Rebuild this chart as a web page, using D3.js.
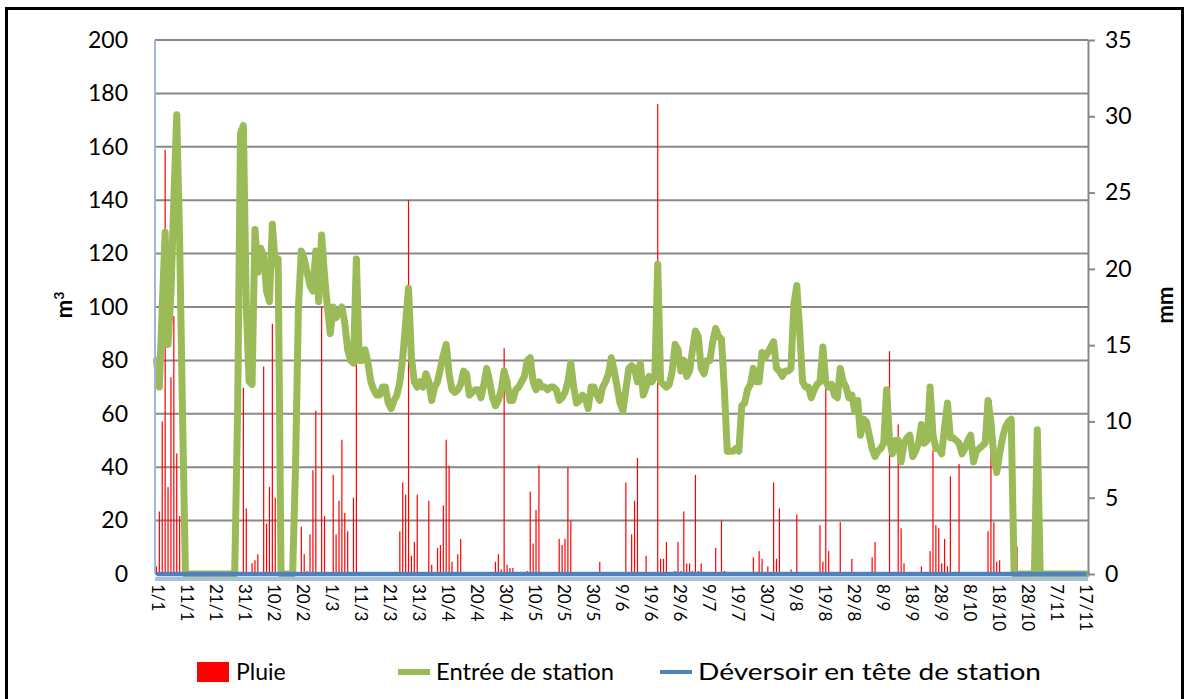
<!DOCTYPE html>
<html>
<head>
<meta charset="utf-8">
<script src="https://cdn.jsdelivr.net/npm/d3@7"></script>
<style>
  body { margin: 0; background: #fff; }
  text { font-family: Lato, "Open Sans", sans-serif; fill: #000; }
</style>
</head>
<body>
<svg id="chart" width="1187" height="699"></svg>
<script>
// categories: daily from 1/1 (leap year), one day missing in late July
const startDate = new Date(2012, 0, 1);
const skippedDay = "25/7";
const tickEvery = 10;

// Entrée de station (m3), left axis
const entree = [
  80, 70, 100, 128, 86, 105, 140, 172, 125, 60,
  0, 0, 0, 0, 0, 0, 0, 0, 0, 0,
  0, 0, 0, 0, 0, 0, 0, 0, 60, 165,
  168, 100, 72, 71, 129, 113, 122, 119, 106, 102,
  131, 116, 118, 0, 0, 0, 0, 0, 40, 100,
  121, 118, 113, 108, 106, 121, 102, 127, 112, 100,
  90, 100, 96, 98, 100, 94, 84, 80, 79, 118,
  80, 80, 84, 79, 72, 69, 67, 67, 70, 70,
  64, 62, 65, 67, 72, 81, 94, 107, 81, 72,
  70, 72, 70, 75, 72, 65, 70, 72, 77, 82,
  86, 75, 69, 68, 69, 71, 76, 75, 67, 68,
  69, 69, 66, 71, 77, 72, 66, 63, 65, 69,
  76, 72, 65, 65, 69, 70, 72, 74, 80, 81,
  72, 69, 72, 70, 70, 69, 70, 70, 69, 65,
  66, 68, 72, 79, 70, 64, 65, 67, 66, 62,
  70, 70, 67, 65, 70, 72, 75, 81, 76, 70,
  64, 61, 69, 77, 78, 77, 72, 79, 67, 70,
  74, 72, 74, 116, 72, 71, 70, 71, 76, 86,
  84, 76, 80, 74, 76, 84, 91, 89, 77, 75,
  80, 80, 87, 92, 89, 88, 69, 46, 46, 46,
  47, 46, 63, 64, 69, 71, 77, 72, 72, 83,
  81, 83, 85, 87, 77, 76, 74, 76, 76, 77,
  101, 108, 91, 72, 70, 70, 66, 69, 71, 72,
  85, 72, 70, 71, 67, 66, 77, 72, 70, 66,
  67, 61, 65, 52, 58, 57, 52, 47, 44, 46,
  47, 49, 69, 50, 45, 50, 50, 42, 49, 51,
  52, 44, 46, 49, 56, 49, 50, 70, 52, 47,
  47, 45, 55, 64, 51, 51, 50, 49, 45, 47,
  50, 52, 42, 46, 47, 48, 49, 65, 57, 44,
  38, 45, 51, 55, 57, 58, 0, 0, 0, 0,
  0, 0, 0, 0, 54, 0, 0, 0, 0, 0,
  0, 0, 0, 0, 0, 0, 0, 0, 0, 0,
  0, 0
];

// Pluie (mm), right axis
const pluie = [
  0.5, 4.1, 10, 27.8, 5.7, 12.9, 16.9, 7.9, 3.8, 0,
  0, 0, 0, 0, 0, 0, 0, 0, 0, 0,
  0, 0, 0, 0, 0, 0, 0, 0, 0, 0.1,
  12.2, 4.3, 0.1, 0.7, 0.9, 1.3, 0.1, 13.6, 3.3, 5.7,
  16.4, 5.0, 0, 0, 0, 0, 0, 0, 0, 0,
  3.1, 1.3, 0.2, 2.6, 6.8, 10.7, 0, 17.5, 3.8, 0,
  0, 6.5, 2.6, 4.8, 8.8, 4.0, 2.8, 0, 5.0, 13.8,
  0, 0, 0, 0, 0, 0, 0, 0, 0, 0,
  0, 0, 0, 0.1, 2.8, 6.0, 5.2, 24.5, 1.2, 2.1,
  5.2, 0, 0.1, 0, 4.8, 0.6, 0, 1.7, 1.9, 4.5,
  8.8, 7.1, 0.8, 0.1, 1.3, 2.3, 0.1, 0.1, 0, 0,
  0, 0, 0, 0, 0, 0, 0.1, 0.8, 1.3, 0.3,
  14.8, 0.6, 0.4, 0.4, 0, 0, 0, 0, 0.2, 5.4,
  2.0, 4.2, 7.1, 0, 0, 0, 0.1, 0, 0, 2.3,
  1.9, 2.3, 7.0, 3.5, 0, 0, 0, 0, 0, 0,
  0, 0, 0, 0.8, 0, 0, 0, 0, 0, 0,
  0, 0, 6.0, 0.1, 2.6, 4.8, 7.6, 0.1, 0.1, 1.2,
  0, 0, 0, 30.8, 1.0, 1.0, 2.1, 0, 0, 0.2,
  2.1, 0.2, 4.1, 0.7, 0.7, 0.2, 6.5, 0.2, 0.7, 0.1,
  0, 0, 0, 1.7, 0, 3.5, 0.2, 0, 0, 0,
  0, 0, 0, 0, 0, 0.1, 1.1, 0, 1.5, 1.0,
  0.1, 0.5, 0, 6.0, 1.0, 4.3, 0.1, 0.1, 0, 0.3,
  0, 3.9, 0, 0, 0, 0.1, 0, 0, 0, 3.2,
  0.8, 12.5, 1.5, 0, 0, 0, 3.4, 0.1, 0, 0,
  1.0, 0, 0.1, 0, 0, 0.1, 0.1, 1.1, 2.1, 0,
  0, 0.1, 0, 14.6, 0, 0, 9.8, 3.0, 0.7, 0,
  0.1, 0.1, 0.1, 0, 0.5, 0, 0, 1.5, 8.1, 3.2,
  3.0, 0.7, 2.3, 0.5, 6.4, 0.1, 0, 7.2, 0.1, 0,
  0, 0, 0, 0, 0, 0, 0, 2.8, 11.4, 3.4,
  0.8, 0.9, 0, 0.1, 0, 0, 0, 1.8, 0, 0,
  0, 0, 0, 0, 0, 0, 0, 0, 0, 0,
  0, 0, 0, 0, 0, 0, 0, 0, 0, 0,
  0, 0
];

// Déversoir en tête de station (m3), left axis
const deversoir = [
  0, 0, 0, 0, 0, 0, 0, 0, 0, 0, 0, 0, 0, 0, 0, 0, 0, 0, 0, 0,
  0, 0, 0, 0, 0, 0, 0, 0, 0, 0, 0, 0, 0, 0, 0, 0, 0, 0, 0, 0,
  0, 0, 0, 0, 0, 0, 0, 0, 0, 0, 0, 0, 0, 0, 0, 0, 0, 0, 0, 0,
  0, 0, 0, 0, 0, 0, 0, 0, 0, 0, 0, 0, 0, 0, 0, 0, 0, 0, 0, 0,
  0, 0, 0, 0, 0, 0, 0, 0, 0, 0, 0, 0, 0, 0, 0, 0, 0, 0, 0, 0,
  0, 0, 0, 0, 0, 0, 0, 0, 0, 0, 0, 0, 0, 0, 0, 0, 0, 0, 0, 0,
  0, 0, 0, 0, 0, 0, 0, 0, 0, 0, 0, 0, 0, 0, 0, 0, 0, 0, 0, 0,
  0, 0, 0, 0, 0, 0, 0, 0, 0, 0, 0, 0, 0, 0, 0, 0, 0, 0, 0, 0,
  0, 0, 0, 0, 0, 0, 0, 0, 0, 0, 0, 0, 0, 0, 0, 0, 0, 0, 0, 0,
  0, 0, 0, 0, 0, 0, 0, 0, 0, 0, 0, 0, 0, 0, 0, 0, 0, 0, 0, 0,
  0, 0, 0, 0, 0, 0, 0, 0, 0, 0, 0, 0, 0, 0, 0, 0, 0, 0, 0, 0,
  0, 0, 0, 0, 0, 0, 0, 0, 0, 0, 0, 0, 0, 0, 0, 0, 0, 0, 0, 0,
  0, 0, 0, 0, 0, 0, 0, 0, 0, 0, 0, 0, 0, 0, 0, 0, 0, 0, 0, 0,
  0, 0, 0, 0, 0, 0, 0, 0, 0, 0, 0, 0, 0, 0, 0, 0, 0, 0, 0, 0,
  0, 0, 0, 0, 0, 0, 0, 0, 0, 0, 0, 0, 0, 0, 0, 0, 0, 0, 0, 0,
  0, 0, 0, 0, 0, 0, 0, 0, 0, 0, 0, 0, 0, 0, 0, 0, 0, 0, 0, 0,
  0, 0
];

const leftTicks = [0, 20, 40, 60, 80, 100, 120, 140, 160, 180, 200];
const rightTicks = [0, 5, 10, 15, 20, 25, 30, 35];

const legendItems = [
  { label: "Pluie", kind: "bar", color: "#ff0000" },
  { label: "Entrée de station", kind: "line", color: "#9bbb59" },
  { label: "Déversoir en tête de station", kind: "line", color: "#4f81bd" }
];

// build date labels
const dates = [];
for (let d = new Date(startDate); dates.length < entree.length; d.setDate(d.getDate() + 1)) {
  const lab = d.getDate() + "/" + (d.getMonth() + 1);
  if (lab !== skippedDay) dates.push(lab);
}

const width = 1187;
const height = 699;
const margin = { top: 40, right: 99, bottom: 125, left: 155 };

const svg = d3.select("#chart");

const x = d3
  .scaleBand()
  .domain(dates)
  .range([margin.left, width - margin.right]);
const cx = (d) => x(d) + x.bandwidth() / 2;

const yL = d3
  .scaleLinear()
  .domain([0, 200])
  .range([height - margin.bottom, margin.top]);

const yR = d3
  .scaleLinear()
  .domain([0, 35])
  .range([height - margin.bottom, margin.top]);

// chart frame
svg.append("rect")
  .attr("x", 6.5).attr("y", 8.5)
  .attr("width", 1176).attr("height", 720)
  .attr("fill", "none").attr("stroke", "#000").attr("stroke-width", 3);

// gridlines
svg.append("g")
  .selectAll("line")
  .data(leftTicks)
  .join("line")
  .attr("x1", margin.left).attr("x2", width - margin.right)
  .attr("y1", (d) => yL(d)).attr("y2", (d) => yL(d))
  .attr("stroke", "#888").attr("stroke-width", 2);

// rain bars
svg.append("g")
  .attr("fill", "#ff0000")
  .selectAll("rect")
  .data(pluie)
  .join("rect")
  .attr("x", (d, i) => cx(dates[i]) - 0.6)
  .attr("width", 1.2)
  .attr("y", (d) => yR(d))
  .attr("height", (d) => yR(0) - yR(d));

// lines
const lineL = d3.line()
  .x((d, i) => cx(dates[i]))
  .y((d) => yL(d));

svg.append("path")
  .datum(entree)
  .attr("d", lineL)
  .attr("fill", "none")
  .attr("stroke", "#9bbb59")
  .attr("stroke-width", 7)
  .attr("stroke-linejoin", "round")
  .attr("stroke-linecap", "round");

// light axis band under the zero line
svg.append("line")
  .attr("x1", margin.left).attr("x2", width - margin.right)
  .attr("y1", yL(0) + 5).attr("y2", yL(0) + 5)
  .attr("stroke", "#a9c0dd").attr("stroke-width", 4);

svg.append("path")
  .datum(deversoir)
  .attr("d", lineL)
  .attr("fill", "none")
  .attr("stroke", "#4f81bd")
  .attr("stroke-width", 4.5);

// left axis
svg.append("line")
  .attr("x1", margin.left).attr("x2", margin.left)
  .attr("y1", margin.top).attr("y2", yL(0))
  .attr("stroke", "#9db6d9").attr("stroke-width", 2);

svg.append("g")
  .attr("transform", `translate(${margin.left},0)`)
  .call(d3.axisLeft(yL).tickValues(leftTicks).tickSize(0).tickPadding(27))
  .call((g) => g.select(".domain").remove())
  .call((g) => g.selectAll("text").style("font-size", "23px"));

// right axis
svg.append("g")
  .attr("transform", `translate(${width - margin.right},0)`)
  .call(d3.axisRight(yR).tickValues(rightTicks).tickSize(7).tickSizeOuter(0).tickPadding(10))
  .call((g) => g.select(".domain").attr("stroke", "#888").attr("stroke-width", 2))
  .call((g) => g.selectAll(".tick line").attr("stroke", "#888").attr("stroke-width", 2))
  .call((g) => g.selectAll("text").style("font-size", "23px"));

// bottom axis labels
svg.append("g")
  .attr("transform", `translate(0,${yL(0) + 10})`)
  .call(d3.axisBottom(x).tickValues(dates.filter((d, i) => i % tickEvery === 0)).tickSize(0))
  .call((g) => g.select(".domain").remove())
  .call((g) => g.selectAll("text")
    .attr("x", 0).attr("y", -2).attr("dy", "0.35em")
    .attr("transform", "rotate(90)")
    .style("text-anchor", "start")
    .style("font-size", "17px"));

// axis titles
svg.append("text")
  .attr("transform", "translate(72,305) rotate(-90)")
  .attr("text-anchor", "middle")
  .style("font-size", "22px").style("font-weight", "bold")
  .html('m<tspan dy="-8" font-size="14px">3</tspan>');

svg.append("text")
  .attr("transform", "translate(1173,305) rotate(-90)")
  .attr("text-anchor", "middle")
  .style("font-size", "22px").style("font-weight", "bold")
  .text("mm");

// legend
const legendX = [197, 398, 660];
const legendW = [null, 178, 343];
const legend = svg.append("g");
legendItems.forEach((item, i) => {
  const g = legend.append("g").attr("transform", `translate(${legendX[i]},672)`);
  if (item.kind === "bar") {
    g.append("rect").attr("x", 0).attr("y", -10).attr("width", 32).attr("height", 20).attr("fill", item.color);
  } else {
    g.append("line").attr("x1", 0).attr("x2", 32).attr("y1", 0).attr("y2", 0)
      .attr("stroke", item.color).attr("stroke-width", item.color === "#9bbb59" ? 6 : 4);
  }
  const t = g.append("text").attr("x", i === 0 ? 39 : 38).attr("dy", "0.35em")
    .style("font-size", "23px").text(item.label);
  if (legendW[i]) t.attr("textLength", legendW[i]).attr("lengthAdjust", "spacingAndGlyphs");
});
</script>
</body>
</html>
